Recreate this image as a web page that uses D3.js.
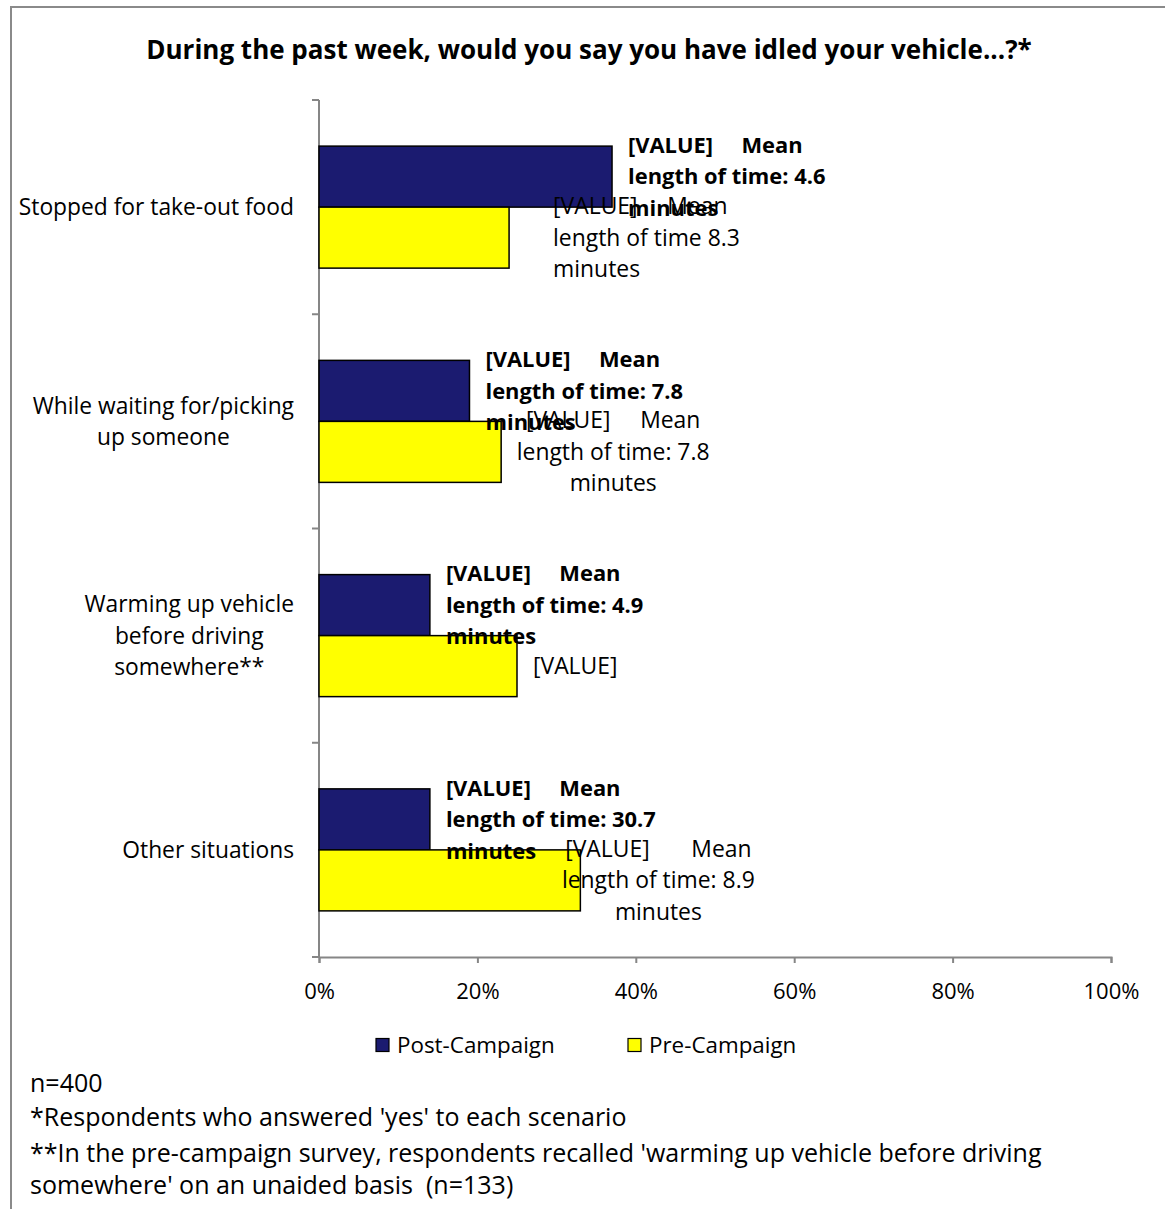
<!DOCTYPE html>
<html>
<head>
<meta charset="utf-8">
<script src="https://cdn.jsdelivr.net/npm/d3@7"></script>
<style>
  html, body { margin: 0; padding: 0; background: #fff; }
  svg { display: block; }
  text { font-family: "Open Sans", "Noto Sans", sans-serif; fill: #000; }
</style>
</head>
<body>
<svg id="chart" width="1165" height="1209"></svg>
<script>
// ---------- data ----------
const title = "During the past week, would you say you have idled your vehicle...?*";
const categories = [
  "Stopped for take-out food",
  "While waiting for/picking up someone",
  "Warming up vehicle before driving somewhere**",
  "Other situations"
];
const categoryLines = [
  ["Stopped for take-out food"],
  ["While waiting for/picking", "up someone"],
  ["Warming up vehicle", "before driving", "somewhere**"],
  ["Other situations"]
];
const seriesNames = ["Post-Campaign", "Pre-Campaign"];
const postValues = [0.37, 0.19, 0.14, 0.14];
const preValues  = [0.24, 0.23, 0.25, 0.33];
const postLabels = [
  ["[VALUE]     Mean", "length of time: 4.6", "minutes"],
  ["[VALUE]     Mean", "length of time: 7.8", "minutes"],
  ["[VALUE]     Mean", "length of time: 4.9", "minutes"],
  ["[VALUE]     Mean", "length of time: 30.7", "minutes"]
];
const preLabels = [
  ["[VALUE]     Mean", "length of time 8.3", "minutes"],
  ["[VALUE]     Mean", "length of time: 7.8", "minutes"],
  ["[VALUE]"],
  ["[VALUE]       Mean", "length of time: 8.9", "minutes"]
];
const xTicks = [0, 0.2, 0.4, 0.6, 0.8, 1.0];
const footnotes = [
  "n=400",
  "*Respondents who answered 'yes' to each scenario",
  "**In the pre-campaign survey, respondents recalled 'warming up vehicle before driving",
  "somewhere' on an unaided basis  (n=133)"
];

// ---------- styling / layout ----------
const colors = { "Post-Campaign": "#1b1b70", "Pre-Campaign": "#ffff00" };
const axisColor = "#868686";
const fsTitle = 26, fsCat = 22.8, fsPost = 21.9, fsPre = 22.9, fsTick = 22, fsLeg = 22.4, fsFoot = 25;
const lineH = 31.5;
const postLabelStyle = categories.map(() => ({ dx: 16, anchor: "start" }));
const preLabelStyle = [
  { dx: 44, anchor: "start" },
  { dx: 112, anchor: "middle" },
  { dx: 16, anchor: "start" },
  { dx: 78, anchor: "middle" }
];

const svg = d3.select("#chart");

svg.append("path")
  .attr("d", "M11,1209 V7 H1165")
  .attr("fill", "none").attr("stroke", "#8a8a8a").attr("stroke-width", 2);

svg.append("text")
  .attr("x", 589).attr("y", 50).attr("dy", "0.35em")
  .attr("text-anchor", "middle")
  .attr("font-weight", "bold").attr("font-size", fsTitle)
  .text(title);

const x = d3.scaleLinear().domain([0, 1]).range([319, 1111]);
const y = d3.scaleBand().domain(categories).range([100, 957]).paddingInner(0).paddingOuter(0);
const y1 = d3.scaleBand().domain(seriesNames).range([0, y.bandwidth()]).paddingInner(0).paddingOuter(0.756);

const rows = categories.map((c, i) => ({
  cat: c, i,
  vals: [
    { s: "Post-Campaign", v: postValues[i], lab: postLabels[i], st: postLabelStyle[i], bold: true, fs: fsPost },
    { s: "Pre-Campaign", v: preValues[i], lab: preLabels[i], st: preLabelStyle[i], bold: false, fs: fsPre }
  ]
}));

const xAxis = d3.axisBottom(x).tickValues(xTicks).tickFormat(d3.format(".0%")).tickSize(6).tickPadding(20);
const gx = svg.append("g").attr("transform", `translate(0,957)`).call(xAxis);
gx.select(".domain").attr("stroke", axisColor).attr("stroke-width", 2);
gx.selectAll(".tick line").attr("stroke", axisColor).attr("stroke-width", 2);
gx.selectAll(".tick text").attr("font-size", fsTick).attr("font-family", "Open Sans, sans-serif").attr("fill", "#000");

svg.append("line").attr("x1", x(0)).attr("x2", x(0)).attr("y1", y.range()[0]).attr("y2", y.range()[1])
  .attr("stroke", axisColor).attr("stroke-width", 2);
const bounds = categories.map(c => y(c)).concat([y.range()[1]]);
svg.selectAll(".ytick").data(bounds).join("line")
  .attr("x1", x(0) - 7).attr("x2", x(0)).attr("y1", d => d).attr("y2", d => d)
  .attr("stroke", axisColor).attr("stroke-width", 2);

const catG = svg.selectAll(".cat").data(rows).join("text")
  .attr("class", "cat")
  .attr("text-anchor", "middle")
  .attr("font-size", fsCat);
catG.each(function(d) {
  const lines = categoryLines[d.i];
  const t = d3.select(this);
  const cy = y(d.cat) + y.bandwidth() / 2;
  t.selectAll("tspan").data(lines).join("tspan")
    .attr("x", 0).attr("y", (l, k) => cy + (k - (lines.length - 1) / 2) * lineH)
    .attr("dy", "0.35em").text(l => l);
});
catG.each(function() {
  const bb = this.getBBox();
  const shift = 294 - (bb.x + bb.width);
  d3.select(this).selectAll("tspan").attr("x", shift);
});

const barG = svg.selectAll(".row").data(rows).join("g")
  .attr("class", "row")
  .attr("transform", d => `translate(0,${y(d.cat)})`);
barG.selectAll("rect").data(d => d.vals).join("rect")
  .attr("x", x(0))
  .attr("y", d => y1(d.s))
  .attr("width", d => x(d.v) - x(0))
  .attr("height", y1.bandwidth())
  .attr("fill", d => colors[d.s])
  .attr("stroke", "#000").attr("stroke-width", 1.5);

const labG = svg.selectAll(".labrow").data(rows).join("g")
  .attr("class", "labrow")
  .attr("transform", d => `translate(0,${y(d.cat)})`);
labG.selectAll("text").data(d => d.vals).join("text")
  .attr("font-size", d => d.fs)
  .attr("font-weight", d => d.bold ? "bold" : "normal")
  .attr("text-anchor", d => d.st.anchor)
  .style("white-space", "pre")
  .each(function(d) {
    const cy = y1(d.s) + y1.bandwidth() / 2;
    const n = d.lab.length;
    d3.select(this).selectAll("tspan").data(d.lab).join("tspan")
      .attr("x", x(d.v) + d.st.dx)
      .attr("y", (l, k) => cy + (k - (n - 1) / 2) * lineH)
      .attr("dy", "0.35em")
      .text(l => l);
  });

const leg = svg.append("g").attr("transform", "translate(0,1045)");
const legX = [376, 628];
seriesNames.forEach((s, i) => {
  leg.append("rect").attr("x", legX[i]).attr("y", -6.5).attr("width", 13).attr("height", 13)
    .attr("fill", colors[s]).attr("stroke", "#000").attr("stroke-width", 1.2);
  leg.append("text").attr("x", legX[i] + 21).attr("y", 0).attr("dy", "0.35em")
    .attr("font-size", fsLeg).text(s);
});

svg.selectAll(".foot").data(footnotes).join("text")
  .attr("class", "foot")
  .attr("x", 30)
  .attr("y", (d, i) => [1083, 1117, 1153, 1185][i])
  .attr("dy", "0.35em")
  .attr("font-size", fsFoot)
  .style("white-space", "pre")
  .text(d => d);
</script>
</body>
</html>
